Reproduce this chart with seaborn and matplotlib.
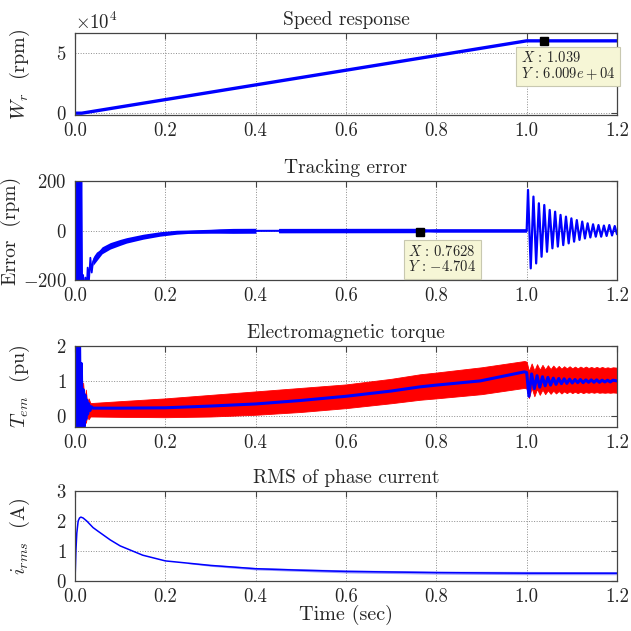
import numpy as np
import matplotlib
matplotlib.use("Agg")
import matplotlib.pyplot as plt
import seaborn as sns

# ---- speed response ----
speed_t = [0.0, 0.015, 1.0, 1.2]
speed_w = [0.0, 0.0, 6.0e4, 6.0e4]
tip1 = (1.039, 6.009e4)

# ---- tracking error ----
err_t = [0.000, 0.002, 0.004, 0.006, 0.008, 0.010, 0.012, 0.014, 0.016, 0.018,
         0.020, 0.023, 0.026, 0.028, 0.031, 0.034, 0.037, 0.040, 0.045, 0.050,
         0.060, 0.078, 0.100, 0.114, 0.151, 0.188, 0.225, 0.300, 0.400, 0.600, 1.000]
err_e = [0, 900, -700, 600, -600, 500, -450, 350, -300, -180,
         -260, -190, -240, -150, -200, -110, -170, -125, -105, -92,
         -80, -62, -48, -40, -25, -14, -7, -3, -1, 0, 0]
band_t = [0.040, 0.060, 0.078, 0.100, 0.114, 0.151, 0.188, 0.225, 0.250, 0.300,
          0.320, 0.350, 0.400, 0.401, 0.450, 0.451, 0.760, 0.780, 0.800, 1.000]
band_lo = [-141, -94, -75, -60, -51, -35, -23, -15, -12, -11,
           -11, -11.5, -11, -3, -2.5, -9.5, -9, -6, -7, -7]
band_hi = [-109, -66, -49, -36, -29, -15, -5, 1, 2, 5,
           7, 8.5, 9, 1, 1.5, 8.5, 9, 6, 7, 7]
osc_t = [1.000, 1.003, 1.009, 1.015, 1.021, 1.027, 1.033, 1.039, 1.045, 1.051,
         1.057, 1.063, 1.069, 1.075, 1.081, 1.087, 1.093, 1.099, 1.105, 1.111,
         1.117, 1.123, 1.129, 1.135, 1.141, 1.147, 1.153, 1.159, 1.165, 1.171,
         1.177, 1.183, 1.189, 1.195, 1.200]
osc_e = [0, 164, -153, 137, -133, 110, -106, 103, -86, 83,
         -72, 76, -65, 63, -59, 56, -52, 49, -45, 42,
         -38, 36, -32, 29, -28, 25, -25, 22, -25, 20,
         -22, 22, -20, 18, -15]
tip2 = (0.7628, -4.704)

# ---- electromagnetic torque ----
tq_t = [0.000, 0.002, 0.004, 0.006, 0.008, 0.010, 0.012, 0.014, 0.016, 0.018,
        0.020, 0.022, 0.024, 0.026, 0.028, 0.030, 0.033, 0.036, 0.040, 0.100,
        0.200, 0.300, 0.400, 0.500, 0.600, 0.700, 0.764, 0.800, 0.897, 0.995,
        1.000, 1.005, 1.011, 1.017, 1.023, 1.029, 1.035, 1.041, 1.047, 1.053,
        1.059, 1.065, 1.071, 1.077, 1.083, 1.089, 1.095, 1.101, 1.107, 1.113,
        1.119, 1.125, 1.131, 1.137, 1.143, 1.149, 1.155, 1.161, 1.167, 1.173,
        1.179, 1.185, 1.191, 1.200]
tq_blue = [0.0, 2.6, -0.4, 2.5, -0.4, 2.3, -0.4, 1.5, -0.3, 0.75,
           -0.31, 0.6, -0.1, 0.45, 0.05, 0.35, 0.15, 0.26, 0.22, 0.22,
           0.23, 0.28, 0.34, 0.44, 0.56, 0.71, 0.83, 0.88, 1.00, 1.26,
           1.24, 0.56, 1.20, 0.78, 1.15, 0.82, 1.12, 0.86, 1.10, 0.88,
           1.08, 0.90, 1.07, 0.92, 1.06, 0.93, 1.05, 0.94, 1.04, 0.95,
           1.04, 0.95, 1.03, 0.96, 1.03, 0.96, 1.03, 0.96, 1.02, 0.97,
           1.02, 0.97, 1.02, 1.00]
tq_red_t = [0.014, 0.016, 0.018, 0.021, 0.024, 0.027, 0.030, 0.034, 0.040, 0.100,
            0.200, 0.300, 0.400, 0.500, 0.600, 0.700, 0.764, 0.800, 0.900, 0.995,
            1.000, 1.005, 1.011, 1.017, 1.023, 1.029, 1.035, 1.041, 1.047, 1.053,
            1.059, 1.065, 1.071, 1.077, 1.083, 1.089, 1.095, 1.101, 1.107, 1.113,
            1.119, 1.125, 1.131, 1.137, 1.143, 1.149, 1.155, 1.161, 1.167, 1.173,
            1.179, 1.185, 1.191, 1.200]
tq_red_hi = [0.0, 0.3, 0.95, 0.4, 0.75, 0.35, 0.5, 0.37, 0.37, 0.42,
             0.50, 0.60, 0.70, 0.80, 0.90, 1.06, 1.19, 1.24, 1.39, 1.57,
             1.55, 1.28, 1.50, 1.30, 1.48, 1.32, 1.46, 1.33, 1.45, 1.34,
             1.44, 1.35, 1.43, 1.35, 1.42, 1.36, 1.42, 1.36, 1.41, 1.36,
             1.41, 1.37, 1.41, 1.37, 1.40, 1.37, 1.40, 1.37, 1.40, 1.37,
             1.39, 1.37, 1.39, 1.38]
tq_red_lo = [0.0, -0.3, -0.31, -0.1, -0.2, 0.0, -0.1, -0.02, -0.02, -0.03,
             -0.04, -0.02, 0.03, 0.11, 0.22, 0.36, 0.46, 0.50, 0.62, 0.80,
             0.78, 0.51, 0.80, 0.56, 0.77, 0.60, 0.75, 0.62, 0.73, 0.63,
             0.72, 0.64, 0.71, 0.64, 0.70, 0.65, 0.70, 0.65, 0.69, 0.65,
             0.69, 0.65, 0.68, 0.66, 0.68, 0.66, 0.68, 0.66, 0.67, 0.66,
             0.67, 0.66, 0.67, 0.66]

# ---- RMS of phase current ----
irms_t = [0.000, 0.002, 0.004, 0.007, 0.010, 0.013, 0.018, 0.026, 0.040, 0.050,
          0.078, 0.100, 0.150, 0.200, 0.300, 0.400, 0.500, 0.600, 0.800, 1.000, 1.200]
irms_v = [0.0, 1.0, 1.6, 2.0, 2.1, 2.13, 2.1, 2.0, 1.78, 1.67,
          1.37, 1.17, 0.86, 0.67, 0.52, 0.41, 0.36, 0.32, 0.28, 0.26, 0.26]
irms_band_t = [0.25, 0.30, 0.40, 0.60, 0.80, 1.00, 1.20]
irms_band_lo = [0.58, 0.49, 0.37, 0.27, 0.23, 0.21, 0.21]
irms_band_hi = [0.62, 0.55, 0.45, 0.37, 0.33, 0.32, 0.31]

xticks = [0.0, 0.2, 0.4, 0.6, 0.8, 1.0, 1.2]

sns.set_theme(style="white")
plt.rcParams.update({
    "font.family": "serif",
    "font.serif": ["cmr10", "DejaVu Serif"],
    "mathtext.fontset": "cm",
    "axes.formatter.use_mathtext": True,
    "axes.unicode_minus": False,
    "axes.edgecolor": "#444444",
    "axes.linewidth": 0.9,
})

BLUE = "#0000ff"
RED = "#ff0000"
TIPBOX = dict(boxstyle="square,pad=0.3", fc="#f6f6d6", ec="#c8c8b0", lw=0.8)

fig = plt.figure(figsize=(6.31, 6.31), dpi=100)
L, W = 75 / 631, 542 / 631
ax1 = fig.add_axes([L, 1 - 115 / 631, W, 82 / 631])
ax2 = fig.add_axes([L, 1 - 280 / 631, W, 99 / 631])
ax3 = fig.add_axes([L, 1 - 427 / 631, W, 81 / 631])
ax4 = fig.add_axes([L, 1 - 581 / 631, W, 90 / 631])

# speed
sns.lineplot(x=speed_t, y=speed_w, ax=ax1, color=BLUE, lw=2.4, estimator=None)
ax1.set_ylim(-1500, 6.65e4)
ax1.set_yticks([0, 5e4])
fmt = matplotlib.ticker.ScalarFormatter(useMathText=True)
fmt.set_powerlimits((4, 4))
ax1.yaxis.set_major_formatter(fmt)
ax1.set_title("Speed response", fontsize=14)
ax1.set_ylabel("$W_r$  (rpm)", fontsize=14.5)
ax1.plot(*tip1, marker="s", color="black", ms=5.5, zorder=5)
ax1.annotate("$X\\,:\\,1.039$\n$Y\\,:\\,6.009e+04$", xy=tip1, xytext=(-17, -7),
             textcoords="offset points", ha="left", va="top", fontsize=10.5,
             linespacing=1.0, bbox=TIPBOX, zorder=6)

# tracking error
ax2.fill_between(band_t, band_lo, band_hi, color=BLUE, lw=0)
sns.lineplot(x=err_t, y=err_e, ax=ax2, color=BLUE, lw=1.3, estimator=None, sort=False)
sns.lineplot(x=osc_t, y=osc_e, ax=ax2, color=BLUE, lw=1.6, estimator=None, sort=False)
ax2.set_ylim(-200, 200)
ax2.set_yticks([-200, 0, 200])
ax2.set_title("Tracking error", fontsize=14)
ax2.set_ylabel("Error  (rpm)", fontsize=14)
ax2.plot(*tip2, marker="s", color="black", ms=5.5, zorder=5)
ax2.annotate("$X\\,:\\,0.7628$\n$Y\\,:\\,{-}4.704$", xy=tip2, xytext=(-8, -9),
             textcoords="offset points", ha="left", va="top", fontsize=10.5,
             linespacing=1.0, bbox=TIPBOX, zorder=6)

# torque
ax3.fill_between(tq_red_t, tq_red_lo, tq_red_hi, color=RED, lw=0.6, edgecolor=RED)
sns.lineplot(x=tq_t, y=tq_blue, ax=ax3, color=BLUE, lw=2.2, estimator=None, sort=False)
ax3.set_ylim(-0.32, 2.0)
ax3.set_yticks([0, 1, 2])
ax3.set_title("Electromagnetic torque", fontsize=14)
ax3.set_ylabel("$T_{em}$  (pu)", fontsize=14.5)

# rms current
ax4.fill_between(irms_band_t, irms_band_lo, irms_band_hi, color=BLUE, alpha=0.4, lw=0)
sns.lineplot(x=irms_t, y=irms_v, ax=ax4, color=BLUE, lw=1.1, estimator=None)
ax4.set_ylim(0, 3)
ax4.set_yticks([0, 1, 2, 3])
ax4.set_title("RMS of phase current", fontsize=14)
ax4.set_ylabel("$i_{rms}$  (A)", fontsize=14.5)
ax4.set_xlabel("Time (sec)", fontsize=14.5, labelpad=-1)

for ax in (ax1, ax2, ax3, ax4):
    ax.set_xlim(0, 1.2)
    ax.set_xticks(xticks)
    ax.xaxis.set_major_formatter(matplotlib.ticker.FormatStrFormatter("%.1f"))
    ax.grid(True, ls=":", color="#8c8c8c", lw=0.7)
    ax.set_axisbelow(True)
    ax.tick_params(direction="in", top=True, right=True, length=4,
                   width=0.8, color="#444444", labelsize=13.5)
    ax.tick_params(axis="x", pad=5)
    ax.tick_params(axis="y", pad=6)
    ax.yaxis.set_label_coords(-0.08, 0.5)
    ax.yaxis.get_offset_text().set_fontsize(13.5)
ax2.yaxis.set_label_coords(-0.1, 0.5)

fig.savefig("out.png", dpi=100)
